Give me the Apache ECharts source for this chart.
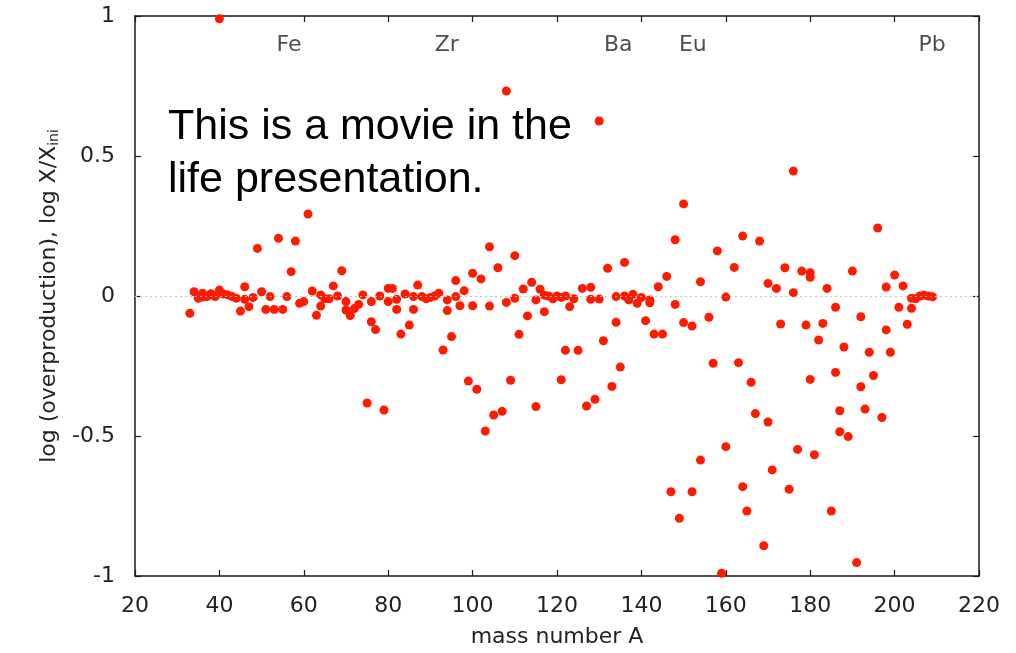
<!DOCTYPE html>
<html>
<head>
<meta charset="utf-8">
<title>log (overproduction) vs mass number</title>
<script src="https://cdn.jsdelivr.net/npm/echarts@6/dist/echarts.min.js"></script>
<style>
  html, body { margin: 0; padding: 0; background: #ffffff; }
  #chart { width: 1016px; height: 653px; }
</style>
</head>
<body>
<div id="chart"></div>
<script>
// Isotopic overproduction: mass number A and log X/X_ini for each isotope
const massNumber = [
  33, 34, 35, 36, 36, 37, 38, 38, 39, 40, 40, 40, 41, 42, 43, 44, 45, 46, 46, 47,
  48, 49, 50, 51, 52, 53, 54, 55, 56, 57, 58, 59, 60, 61, 62, 63, 64, 64, 65, 66,
  67, 68, 69, 70, 70, 71, 72, 73, 74, 75, 76, 76, 77, 78, 79, 80, 80, 81, 82, 82,
  83, 84, 85, 86, 86, 87, 88, 89, 90, 91, 92, 93, 94, 94, 95, 96, 96, 97, 98, 99,
  100, 100, 101, 102, 103, 104, 104, 105, 106, 107, 108, 108, 109, 110, 110, 111, 112, 113, 114, 115,
  115, 116, 117, 117, 118, 119, 120, 121, 121, 122, 122, 123, 124, 125, 126, 127, 128, 128, 129, 130,
  130, 131, 132, 133, 134, 134, 135, 136, 136, 137, 138, 139, 140, 141, 142, 142, 143, 144, 145, 146,
  147, 148, 148, 149, 150, 150, 152, 152, 154, 154, 156, 157, 158, 159, 160, 160, 162, 163, 164, 164,
  165, 166, 167, 168, 169, 170, 170, 171, 172, 173, 174, 175, 176, 176, 177, 178, 179, 180, 180, 180,
  181, 182, 183, 184, 185, 186, 186, 187, 187, 188, 189, 190, 191, 192, 192, 193, 194, 195, 196, 197,
  198, 198, 199, 200, 201, 202, 203, 204, 204, 205, 206, 207, 208, 209
];
const logRatio = [
  -0.062, 0.015, -0.008, 0.010, -0.004, -0.002, 0.004, 0.008, -0.002, 0.990, 0.012, 0.021, 0.007, 0.004, -0.002, -0.008, -0.054, 0.033, -0.012, -0.038,
  -0.005, 0.170, 0.015, -0.048, -0.002, -0.048, 0.206, -0.048, -0.002, 0.087, 0.196, -0.026, -0.020, 0.293, 0.018, -0.069, -0.036, 0.004, -0.010, -0.010,
  0.036, 0.000, 0.090, -0.020, -0.050, -0.070, -0.045, -0.030, 0.004, -0.382, -0.092, -0.020, -0.120, 0.000, -0.407, 0.027, -0.020, 0.027, -0.012, -0.048,
  -0.136, 0.007, -0.104, -0.002, -0.048, 0.039, -0.002, -0.010, -0.005, 0.000, 0.010, -0.193, -0.014, -0.052, -0.145, 0.055, -0.002, -0.035, 0.019, -0.304,
  0.081, -0.035, -0.333, 0.061, -0.482, 0.176, -0.036, -0.425, 0.101, -0.412, -0.023, 0.732, -0.301, 0.144, -0.008, -0.137, 0.025, -0.071, 0.049, -0.395,
  -0.014, 0.024, -0.056, 0.003, 0.000, -0.010, 0.000, -0.005, -0.299, 0.000, -0.194, -0.038, -0.010, -0.194, 0.027, -0.393, 0.031, -0.012, -0.369, -0.011,
  0.625, -0.160, 0.099, -0.323, -0.002, -0.094, -0.254, 0.120, 0.000, -0.014, 0.006, -0.026, -0.005, -0.088, -0.014, -0.024, -0.136, 0.033, -0.136, 0.070,
  -0.699, 0.201, -0.030, -0.794, 0.329, -0.095, -0.699, -0.107, 0.051, -0.586, -0.076, -0.240, 0.161, -0.990, -0.004, -0.538, 0.102, -0.238, 0.214, -0.681,
  -0.768, -0.308, -0.420, 0.196, -0.892, 0.045, -0.450, -0.621, 0.027, -0.100, 0.101, -0.690, 0.446, 0.012, -0.548, 0.089, -0.104, 0.083, 0.067, -0.298,
  -0.567, -0.157, -0.098, 0.027, -0.768, -0.040, -0.273, -0.410, -0.485, -0.182, -0.502, 0.089, -0.952, -0.074, -0.324, -0.404, -0.201, -0.284, 0.243, -0.434,
  0.032, -0.121, -0.201, 0.075, -0.040, 0.036, -0.101, -0.008, -0.044, -0.010, 0.000, 0.003, 0.000, -0.003
];

// Element markers along the top of the frame
const elementNames = ['Fe', 'Zr', 'Ba', 'Eu', 'Pb'];
const elementMass = [56.5, 93.9, 134.5, 152.2, 208.9];
const elementLabelLevel = 0.896;

// Axis ticks
const xTicks = { min: 20, max: 220, step: 20 };
const yTicks = { min: -1, max: 1, step: 0.5 };

const points = massNumber.map((a, i) => [a, logRatio[i]]);
const markers = elementNames.map((n, i) => [elementMass[i], elementLabelLevel, n]);

const textColor = '#222222';
const frameColor = '#1a1a1a';
const tickFont = 'DejaVu Sans';

const chart = echarts.init(document.getElementById('chart'), null, { renderer: 'canvas' });

const frameLine = { show: true, onZero: false, lineStyle: { color: frameColor, width: 1.5 } };
const innerTick = { show: true, inside: true, length: 6, lineStyle: { color: frameColor, width: 1.2 } };

chart.setOption({
  animation: false,
  backgroundColor: '#ffffff',
  grid: { left: 135, right: 37, top: 16, bottom: 77, containLabel: false },
  xAxis: [
    {
      type: 'value', position: 'bottom',
      min: xTicks.min, max: xTicks.max, interval: xTicks.step,
      axisLine: frameLine, axisTick: innerTick,
      axisLabel: { margin: 19, fontSize: 22, color: textColor, fontFamily: tickFont },
      splitLine: { show: false },
      name: 'mass number A', nameLocation: 'middle', nameGap: 50,
      nameTextStyle: { fontSize: 22, color: textColor, fontFamily: tickFont }
    },
    {
      type: 'value', position: 'top',
      min: xTicks.min, max: xTicks.max, interval: xTicks.step,
      axisLine: frameLine, axisTick: innerTick,
      axisLabel: { show: false }, splitLine: { show: false }
    }
  ],
  yAxis: [
    {
      type: 'value', position: 'left',
      min: yTicks.min, max: yTicks.max, interval: yTicks.step,
      axisLine: frameLine, axisTick: innerTick,
      axisLabel: { margin: 20, fontSize: 22, color: textColor, fontFamily: tickFont },
      splitLine: { show: false },
      name: 'log (overproduction), log X/X{sub|ini}',
      nameLocation: 'middle', nameGap: 74, nameRotate: 90,
      nameTextStyle: {
        fontSize: 22, color: textColor, fontFamily: tickFont,
        rich: {
          sub: { fontSize: 14, color: textColor, fontFamily: tickFont, verticalAlign: 'bottom', padding: [9, 0, 0, 0] }
        }
      }
    },
    {
      type: 'value', position: 'right',
      min: yTicks.min, max: yTicks.max, interval: yTicks.step,
      axisLine: frameLine, axisTick: innerTick,
      axisLabel: { show: false }, splitLine: { show: false }
    }
  ],
  graphic: [
    {
      type: 'text', left: 168, top: 101, silent: true,
      style: {
        text: 'This is a movie in the\nlife presentation.',
        fontSize: 43, lineHeight: 53, fill: '#000000',
        fontFamily: 'Liberation Sans'
      }
    }
  ],
  series: [
    {
      type: 'scatter', xAxisIndex: 0, yAxisIndex: 0,
      symbol: 'circle', symbolSize: 9,
      itemStyle: { color: '#ff1a00', opacity: 1 },
      data: points,
      markLine: {
        silent: true, symbol: 'none', label: { show: false },
        lineStyle: { type: [2, 3], color: '#c4c4c4', width: 1 },
        data: [{ yAxis: 0 }]
      },
      z: 3
    },
    {
      type: 'scatter', xAxisIndex: 0, yAxisIndex: 0,
      symbolSize: 0, silent: true,
      label: {
        show: true, position: 'inside', fontSize: 22, color: textColor, fontFamily: tickFont,
        formatter: p => p.data[2]
      },
      data: markers,
      z: 4
    }
  ]
});
</script>
</body>
</html>
